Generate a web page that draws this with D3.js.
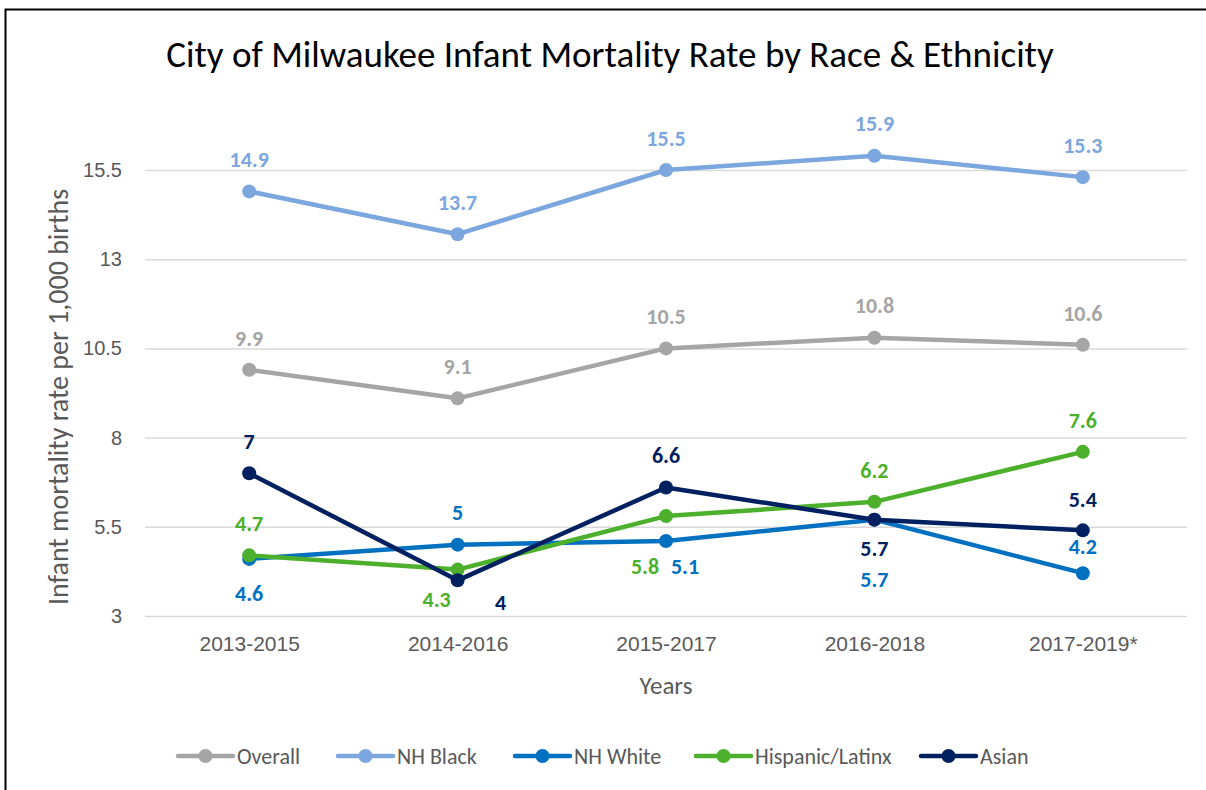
<!DOCTYPE html>
<html>
<head>
<meta charset="utf-8">
<script src="https://cdn.jsdelivr.net/npm/d3@7"></script>
<style>
  body { margin: 0; background: #fff; }
  svg { font-family: Carlito, Calibri, Lato, "Open Sans", sans-serif; }
</style>
</head>
<body>
<script>
// data
var years = ["2013-2015", "2014-2016", "2015-2017", "2016-2018", "2017-2019*"];
var seriesNames = ["Overall", "NH Black", "NH White", "Hispanic/Latinx", "Asian"];
var overall = [9.9, 9.1, 10.5, 10.8, 10.6];
var nhBlack = [14.9, 13.7, 15.5, 15.9, 15.3];
var nhWhite = [4.6, 5, 5.1, 5.7, 4.2];
var hispanic = [4.7, 4.3, 5.8, 6.2, 7.6];
var asian = [7, 4, 6.6, 5.7, 5.4];
var yTicks = [3, 5.5, 8, 10.5, 13, 15.5];

var colors = ["#A5A5A5", "#7CA6DE", "#0070C0", "#4CB02C", "#002060"];

// label offsets (dx, dy from the point), like the moved labels in the original
var labelPos = [
  [[0,-32],[0,-32],[0,-32],[0,-32],[0,-32]],
  [[0,-32],[0,-32],[0,-32],[0,-32],[0,-32]],
  [[0,34],[0,-32],[19,25],[0,60],[0,-27]],
  [[0,-32],[-21,30],[-21,50],[0,-32],[0,-32]],
  [[0,-32],[43,22],[0,-32],[0,29],[0,-31]]
];

var allSeries = [overall, nhBlack, nhWhite, hispanic, asian].map(function(v, i) {
  return { name: seriesNames[i], color: colors[i], values: v, labels: labelPos[i] };
});

var W = 1206, H = 790;
var margin = {top: 170, right: 19, bottom: 174, left: 145};
var width = W - margin.left - margin.right,
    height = H - margin.top - margin.bottom;

var svg = d3.select("body").append("svg")
    .attr("width", W)
    .attr("height", H);

// chart border
svg.append("rect")
    .attr("x", 5.5).attr("y", 9.5)
    .attr("width", W + 10).attr("height", H + 10)
    .attr("fill", "none")
    .attr("stroke", "#000")
    .attr("stroke-width", 2);

svg.append("text")
    .attr("x", 610)
    .attr("y", 67)
    .attr("text-anchor", "middle")
    .style("font-size", "37px")
    .style("fill", "#000")
    .text("City of Milwaukee Infant Mortality Rate by Race & Ethnicity");

var g = svg.append("g")
    .attr("transform", "translate(" + margin.left + "," + margin.top + ")");

var x = d3.scalePoint()
    .domain(years)
    .range([0, width])
    .padding(0.5);

var y = d3.scaleLinear()
    .domain([3, 15.5])
    .range([height, 0]);

// gridlines
g.append("g")
    .attr("class", "grid")
    .call(d3.axisLeft(y).tickValues(yTicks).tickSize(-width).tickFormat(""))
    .call(function(s) {
      s.select(".domain").remove();
      s.selectAll("line").attr("stroke", "#D9D9D9").attr("stroke-width", 1.5);
    });

// y axis labels
g.append("g")
    .call(d3.axisLeft(y).tickValues(yTicks).tickSize(0).tickPadding(23).tickFormat(d3.format("")))
    .call(function(s) {
      s.select(".domain").remove();
      s.selectAll("text").style("font-size", "20px").style("fill", "#595959").style("font-family", null);
    });

// x axis labels
g.append("g")
    .attr("transform", "translate(0," + height + ")")
    .call(d3.axisBottom(x).tickSize(0).tickPadding(20))
    .call(function(s) {
      s.select(".domain").remove();
      s.selectAll("text").style("font-size", "21px").style("fill", "#595959").style("font-family", null);
    });

svg.append("text")
    .attr("x", 666)
    .attr("y", 694)
    .attr("text-anchor", "middle")
    .style("font-size", "25px")
    .style("fill", "#595959")
    .text("Years");

svg.append("text")
    .attr("transform", "translate(68,397) rotate(-90)")
    .attr("text-anchor", "middle")
    .style("font-size", "28px")
    .style("fill", "#595959")
    .text("Infant mortality rate per 1,000 births");

var line = d3.line()
    .x(function(d, i) { return x(years[i]); })
    .y(function(d) { return y(d); });

var sg = g.selectAll(".series")
    .data(allSeries)
  .enter().append("g")
    .attr("class", "series");

sg.append("path")
    .attr("d", function(d) { return line(d.values); })
    .attr("fill", "none")
    .attr("stroke", function(d) { return d.color; })
    .attr("stroke-width", 4.5)
    .attr("stroke-linejoin", "round");

sg.selectAll("circle")
    .data(function(d) { return d.values.map(function(v, i) { return {v: v, i: i, c: d.color}; }); })
  .enter().append("circle")
    .attr("cx", function(d) { return x(years[d.i]); })
    .attr("cy", function(d) { return y(d.v); })
    .attr("r", 7)
    .attr("fill", function(d) { return d.c; });

// data labels
var lg = g.selectAll(".labels")
    .data(allSeries)
  .enter().append("g");

lg.selectAll("text")
    .data(function(d) { return d.values.map(function(v, i) { return {v: v, i: i, c: d.color, off: d.labels[i]}; }); })
  .enter().append("text")
    .attr("x", function(d) { return x(years[d.i]) + d.off[0]; })
    .attr("y", function(d) { return y(d.v) + d.off[1]; })
    .attr("dy", "0.35em")
    .attr("text-anchor", "middle")
    .style("font-size", "22px")
    .style("font-weight", "bold")
    .style("fill", function(d) { return d.c; })
    .text(function(d) { return d.v; });

// legend
var legendX = [178, 338, 515, 696, 921];
var leg = svg.selectAll(".legend")
    .data(allSeries)
  .enter().append("g")
    .attr("transform", function(d, i) { return "translate(" + legendX[i] + ",756)"; });

leg.append("line")
    .attr("x1", 0).attr("x2", 55)
    .attr("stroke", function(d) { return d.color; })
    .attr("stroke-width", 4.5)
    .attr("stroke-linecap", "round");

leg.append("circle")
    .attr("cx", 27.5)
    .attr("r", 7)
    .attr("fill", function(d) { return d.color; });

leg.append("text")
    .attr("x", 59)
    .attr("dy", "0.35em")
    .style("font-size", "22px")
    .style("fill", "#595959")
    .text(function(d) { return d.name; });
</script>
</body>
</html>
